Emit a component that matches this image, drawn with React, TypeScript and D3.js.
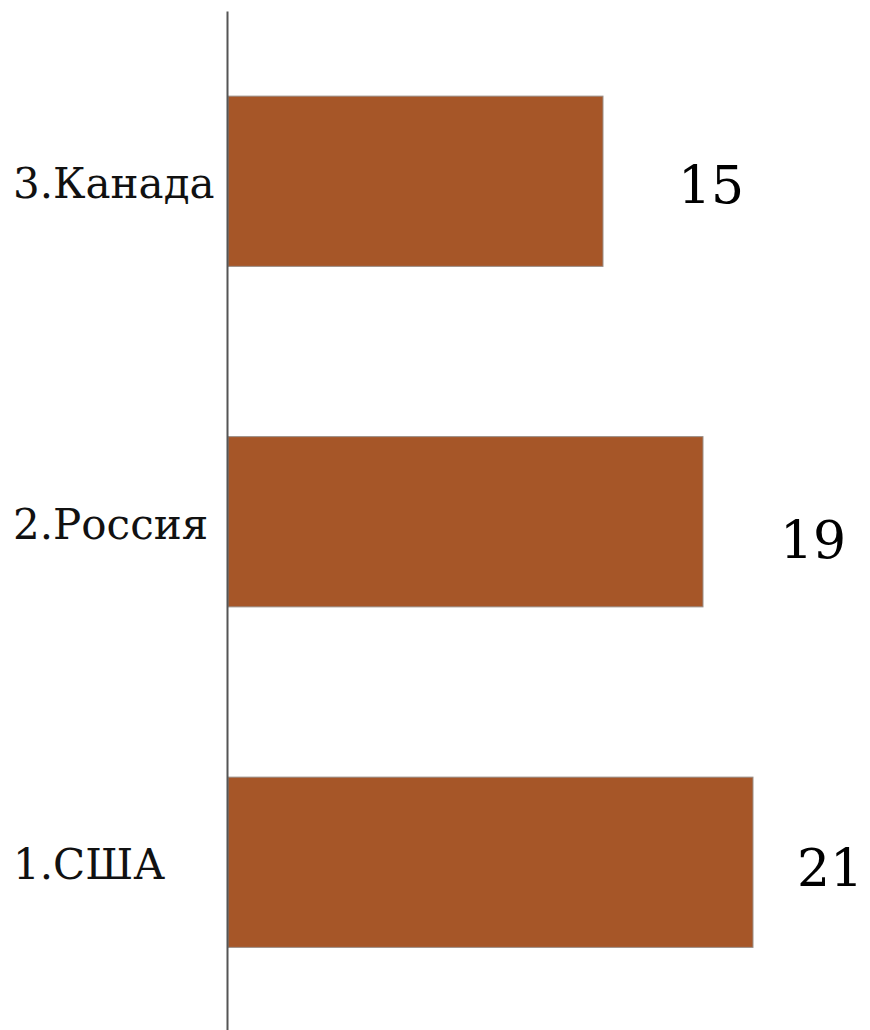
import * as d3 from "d3";
import React, { useRef, useEffect } from 'react'

// values, top to bottom
const countries = ["3.Канада", "2.Россия", "1.США"];
const values = [15, 19, 21];

// the value labels were nudged by hand in the original, so keep their offsets
const valueLabelDx = [75, 77, 44];
const valueLabelDy = [22, 36, 24];

const W = 870, H = 1030
const axisX = 228
const labelX = 13
const barColor = "#A65628"

const App: React.FC = () => {
  const gy = useRef(null);

  const x = d3.scaleLinear([0, 25], [axisX, axisX + 625]);
  const y = d3.scaleBand(countries, [11, 1032.5]).paddingInner(0.5).paddingOuter(0.25);
  const mid = (c: string) => (y(c) ?? 0) + y.bandwidth() / 2

  useEffect(() => {
    if (!gy.current) return
    const g = d3.select(gy.current as SVGGElement)
    g.call(d3.axisLeft(y).tickSize(0).tickFormat(() => ""))
    g.select(".domain").attr("stroke", "#555").attr("stroke-width", 2)
  }, [gy, y]);

  return (
    <svg width={W} height={H} style={{ position: "absolute", left: 0, top: 0, background: "#fff" }}>
      {countries.map((c, i) => (
        <rect key={c} x={x(0)} y={y(c)} width={x(values[i]) - x(0)} height={y.bandwidth()}
          fill={barColor} stroke="#9a8f88" strokeWidth={1} />
      ))}
      <g ref={gy} transform={`translate(${axisX - 1}, 0)`} />
      {countries.map(c => (
        <text key={"l" + c} x={labelX} y={mid(c) + 17}
          fontFamily="DejaVu Serif" fontSize={42} fill="#111">{c}</text>
      ))}
      {countries.map((c, i) => (
        <text key={"v" + c} x={x(values[i]) + valueLabelDx[i]} y={mid(c) + valueLabelDy[i]}
          fontFamily="DejaVu Serif" fontSize={52} fill="#000">{values[i]}</text>
      ))}
    </svg>
  )
}

export default App
